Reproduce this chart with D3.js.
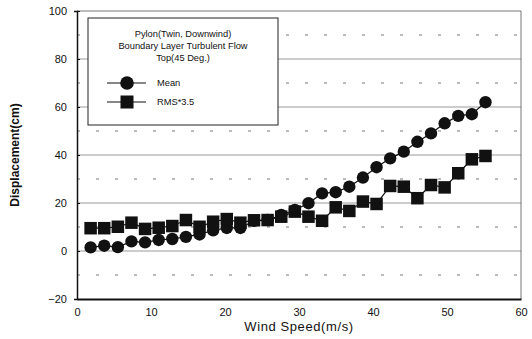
<!DOCTYPE html>
<html>
<head>
<meta charset="utf-8">
<script src="https://cdn.jsdelivr.net/npm/d3@7"></script>
<style>
  body { margin: 0; background: #fff; }
  text { font-family: "Liberation Sans", Arial, sans-serif; fill: #111; }
</style>
</head>
<body>
<div id="chart"></div>
<script>
// wind speed (m/s)
const windSpeed = [1.84, 3.68, 5.52, 7.36, 9.2, 11.04, 12.88, 14.72, 16.56, 18.4,
  20.24, 22.08, 23.92, 25.76, 27.6, 29.44, 31.28, 33.12, 34.96, 36.8,
  38.64, 40.48, 42.32, 44.16, 46.0, 47.84, 49.68, 51.52, 53.36, 55.2];
const meanDisp = [1.5, 2.2, 1.6, 4.0, 3.6, 4.6, 5.0, 5.9, 6.9, 8.6,
  9.6, 9.6, 12.6, 12.9, 15.0, 17.1, 19.9, 24.0, 24.5, 26.8,
  30.6, 34.9, 38.6, 41.4, 45.5, 49.0, 53.2, 56.3, 57.0, 62.0];
const rmsDisp = [9.5, 9.5, 10.1, 11.8, 9.2, 9.7, 10.4, 12.9, 10.1, 12.2,
  13.3, 11.8, 12.8, 12.9, 14.3, 16.4, 14.3, 12.6, 18.2, 16.7,
  20.6, 19.6, 27.1, 26.8, 22.0, 27.5, 26.5, 32.4, 38.2, 39.6];
const xTicks = [0, 10, 20, 30, 40, 50, 60];
const yTicks = [-20, 0, 20, 40, 60, 80, 100];
const dashedLevels = [-10, 10, 30, 50, 70, 90];
const titleLines = ["Pylon(Twin, Downwind)", "Boundary Layer Turbulent Flow", "Top(45 Deg.)"];
const seriesNames = ["Mean", "RMS*3.5"];

const W = 532, H = 339;
const margin = { top: 11, right: 11, bottom: 40, left: 77 };
const width = W - margin.left - margin.right;
const height = H - margin.top - margin.bottom;

const svg = d3.select("#chart").append("svg")
  .attr("width", W).attr("height", H);

const x = d3.scaleLinear().domain([0, 60]).range([0, width]);
const y = d3.scaleLinear().domain([-20, 100]).range([height, 0]);

const g = svg.append("g")
  .attr("transform", `translate(${margin.left},${margin.top})`);

// grid
g.selectAll(".grid").data(yTicks.filter(d => d > -20 && d < 100))
  .enter().append("line")
  .attr("x1", 0).attr("x2", width)
  .attr("y1", d => y(d)).attr("y2", d => y(d))
  .attr("stroke", "#999").attr("stroke-width", 1.2);

g.selectAll(".dgrid").data(dashedLevels)
  .enter().append("line")
  .attr("x1", 0).attr("x2", width)
  .attr("y1", d => y(d)).attr("y2", d => y(d))
  .attr("stroke", "#777").attr("stroke-width", 1)
  .attr("stroke-dasharray", "3,16");

// frame
g.append("line").attr("x1", 0).attr("x2", width).attr("y1", 0).attr("y2", 0)
  .attr("stroke", "#777").attr("stroke-width", 1);
g.append("line").attr("x1", width).attr("x2", width).attr("y1", 0).attr("y2", height)
  .attr("stroke", "#777").attr("stroke-width", 1);

// axes
const xAxis = g.append("g")
  .attr("transform", `translate(0,${height})`)
  .call(d3.axisBottom(x).tickValues(xTicks).tickSize(0).tickPadding(9));
xAxis.select(".domain").attr("stroke", "#111").attr("stroke-width", 1.8);
xAxis.selectAll("text").style("font-size", "11px").attr("fill", "#000");

const yAxis = g.append("g")
  .call(d3.axisLeft(y).tickValues(yTicks).tickSize(3).tickPadding(7));
yAxis.select(".domain").attr("stroke", "#111").attr("stroke-width", 1.5);
yAxis.selectAll(".tick line").attr("x2", 3).attr("stroke", "#111");
yAxis.selectAll("text").style("font-size", "11px").attr("fill", "#000");

// axis titles
svg.append("text")
  .attr("x", margin.left + width / 2).attr("y", 331)
  .attr("text-anchor", "middle")
  .style("font-size", "13px").style("letter-spacing", "0.6px")
  .text("Wind Speed(m/s)");

svg.append("text")
  .attr("transform", `translate(19,${margin.top + y(40)}) rotate(-90)`)
  .attr("text-anchor", "middle")
  .style("font-size", "12px").style("font-weight", "bold")
  .text("Displacement(cm)");

// series
const line = d3.line().x((d, i) => x(windSpeed[i])).y(d => y(d));

g.append("path").datum(meanDisp)
  .attr("d", line).attr("fill", "none").attr("stroke", "#111").attr("stroke-width", 1.2);
g.append("path").datum(rmsDisp)
  .attr("d", line).attr("fill", "none").attr("stroke", "#111").attr("stroke-width", 1.2);

g.selectAll(".mean").data(meanDisp).enter().append("circle")
  .attr("cx", (d, i) => x(windSpeed[i])).attr("cy", d => y(d))
  .attr("r", 6.2).attr("fill", "#111");

const sq = 12.5;
g.selectAll(".rms").data(rmsDisp).enter().append("rect")
  .attr("x", (d, i) => x(windSpeed[i]) - sq / 2).attr("y", d => y(d) - sq / 2)
  .attr("width", sq).attr("height", sq).attr("fill", "#111");

// legend
const lg = svg.append("g").attr("transform", "translate(88,18)");
lg.append("rect").attr("width", 190).attr("height", 107)
  .attr("fill", "#fff").attr("stroke", "#222").attr("stroke-width", 1);
lg.selectAll(".ttl").data(titleLines).enter().append("text")
  .attr("x", 95).attr("y", (d, i) => 19 + i * 12)
  .attr("text-anchor", "middle").style("font-size", "9.3px")
  .text(d => d);

seriesNames.forEach((name, i) => {
  const yy = 65 + i * 19;
  lg.append("line").attr("x1", 19).attr("x2", 58).attr("y1", yy).attr("y2", yy)
    .attr("stroke", "#111").attr("stroke-width", 1.2);
  if (i === 0) {
    lg.append("circle").attr("cx", 39).attr("cy", yy).attr("r", 6.8).attr("fill", "#111");
  } else {
    lg.append("rect").attr("x", 32.5).attr("y", yy - 6.5).attr("width", 13).attr("height", 13).attr("fill", "#111");
  }
  lg.append("text").attr("x", 69).attr("y", yy + 3).style("font-size", "9.3px").text(name);
});
</script>
</body>
</html>
